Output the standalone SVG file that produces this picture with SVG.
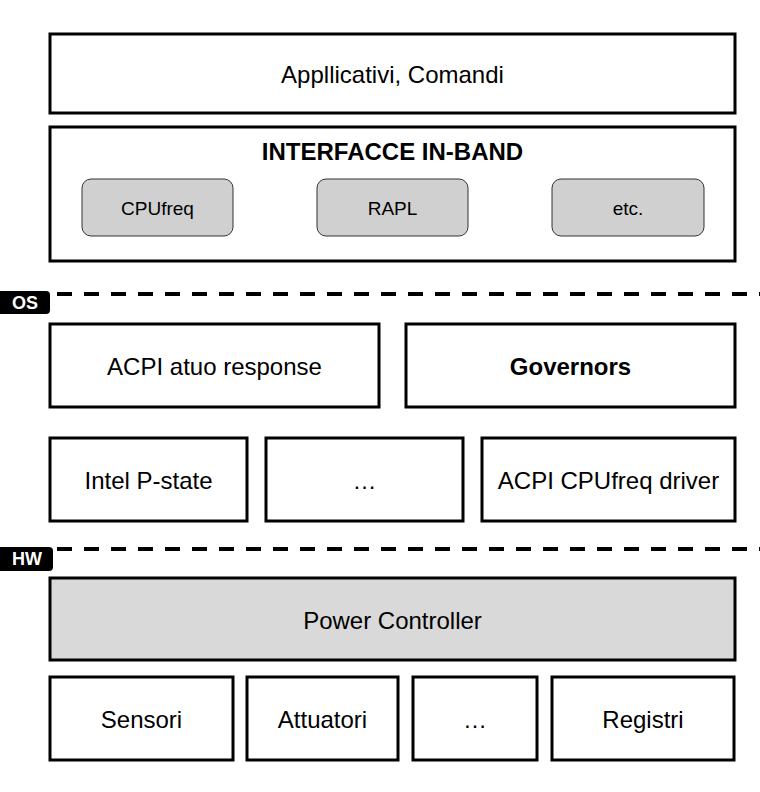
<svg xmlns="http://www.w3.org/2000/svg" width="760" height="792" viewBox="0 0 760 792">
<style>
.box{fill:#ffffff;stroke:#000000;stroke-width:3}
.gray{fill:#d9d9d9;stroke:#000000;stroke-width:3}
.sub{fill:#d0d0d0;stroke:#333333;stroke-width:1}
.t{font-family:"Liberation Sans",Arial,sans-serif;font-size:24px;fill:#000000;text-anchor:middle;dominant-baseline:central}
.ts{font-family:"Liberation Sans",Arial,sans-serif;font-size:19px;fill:#000000;text-anchor:middle;dominant-baseline:central}
.b{font-weight:bold}
.sep{stroke:#000000;stroke-width:4;stroke-dasharray:15 12;fill:none}
.tag{fill:#000000}
.tt{font-family:"Liberation Sans",Arial,sans-serif;font-size:18px;font-weight:bold;fill:#ffffff;text-anchor:middle;dominant-baseline:central}
</style>
<g id="applicativi"><rect class="box" x="50" y="34" width="685" height="79"/><text class="t" x="392.5" y="74">Appllicativi, Comandi</text></g>
<g id="interfacce"><rect class="box" x="50" y="127" width="685" height="134"/><text class="t b" x="392.5" y="151">INTERFACCE IN-BAND</text></g>
<g id="cpufreq"><rect class="sub" x="82" y="179" width="151" height="57" rx="9"/><text class="ts" x="157.5" y="208">CPUfreq</text></g>
<g id="rapl"><rect class="sub" x="317" y="179" width="151" height="57" rx="9"/><text class="ts" x="392.5" y="208">RAPL</text></g>
<g id="etc"><rect class="sub" x="552" y="179" width="152" height="57" rx="9"/><text class="ts" x="628" y="208">etc.</text></g>
<g id="separators">
<line class="sep" x1="57" y1="294" x2="760" y2="294"/>
<line class="sep" x1="57" y1="549" x2="760" y2="549"/>
</g>
<g id="os-tag"><rect class="tag" x="-6" y="291" width="56" height="23" rx="4"/><text class="tt" x="25" y="303">OS</text></g>
<g id="hw-tag"><rect class="tag" x="-6" y="547" width="59" height="24" rx="4"/><text class="tt" x="27" y="559">HW</text></g>
<g id="acpi-auto"><rect class="box" x="50" y="324" width="329" height="83"/><text class="t" x="214.5" y="366">ACPI atuo response</text></g>
<g id="governors"><rect class="box" x="406" y="324" width="329" height="83"/><text class="t b" x="570.5" y="366">Governors</text></g>
<g id="intel-pstate"><rect class="box" x="50" y="438" width="197" height="83"/><text class="t" x="148.5" y="480">Intel P-state</text></g>
<g id="dots-os"><rect class="box" x="266" y="438" width="197" height="83"/><text class="t" x="364.5" y="480">…</text></g>
<g id="acpi-cpufreq"><rect class="box" x="482" y="438" width="253" height="83"/><text class="t" x="608.5" y="480">ACPI CPUfreq driver</text></g>
<g id="power-controller"><rect class="gray" x="50" y="578" width="685" height="82"/><text class="t" x="392.5" y="620">Power Controller</text></g>
<g id="sensori"><rect class="box" x="50" y="677" width="183" height="83"/><text class="t" x="141.5" y="719">Sensori</text></g>
<g id="attuatori"><rect class="box" x="247" y="677" width="151" height="83"/><text class="t" x="322.5" y="719">Attuatori</text></g>
<g id="dots-hw"><rect class="box" x="413" y="677" width="124" height="83"/><text class="t" x="475" y="719">…</text></g>
<g id="registri"><rect class="box" x="552" y="677" width="182" height="83"/><text class="t" x="643" y="719">Registri</text></g>
</svg>
